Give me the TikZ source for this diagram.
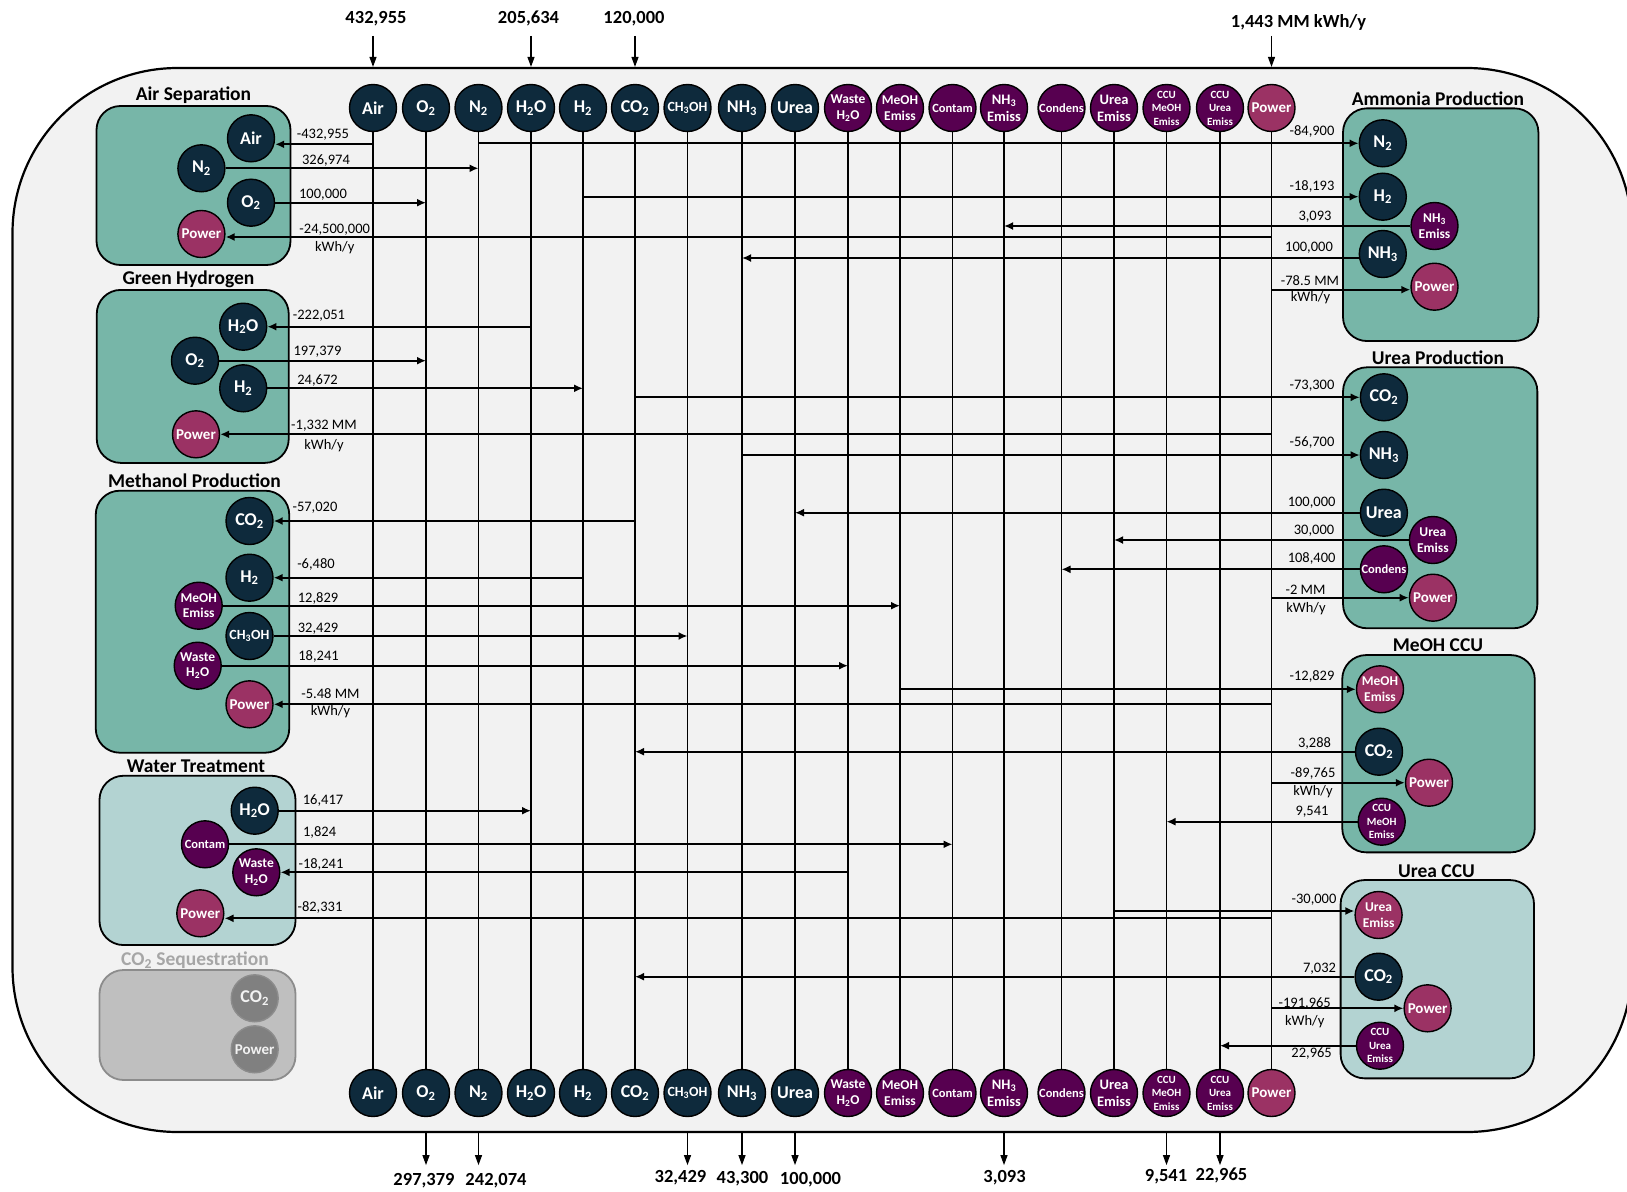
\documentclass[tikz,border=0pt]{standalone}
\usepackage{fontspec}
\setmainfont{Carlito}
\usetikzlibrary{arrows.meta, positioning, calc}

\definecolor{cBg}{HTML}{F2F2F2}
\definecolor{cNavy}{HTML}{0E2A3C}
\definecolor{cPlum}{HTML}{570050}
\definecolor{cRose}{HTML}{9B3264}
\definecolor{cTeal}{HTML}{77B6A8}
\definecolor{cMint}{HTML}{B3D3D2}
\definecolor{cGrayBox}{HTML}{BFBFBF}
\definecolor{cGrayEdge}{HTML}{8C8C8C}
\definecolor{cGrayDot}{HTML}{808080}
\definecolor{cGrayTitle}{HTML}{A6A6A6}

\newcommand{\sbs}[1]{\textsubscript{#1}}

\begin{document}
\begin{tikzpicture}[
    x=1pt, y=-1pt,
    >={Latex[length=9pt,width=8pt]},
    % whole site frame
    site/.style={draw, line width=2.2pt, fill=cBg, rounded corners=165pt,
        minimum width=1619.5pt, minimum height=1064pt, inner sep=0pt},
    % process blocks
    unit/.style={draw, line width=1.8pt, rounded corners=24pt, fill=cTeal, inner sep=0pt},
    unitlight/.style={unit, fill=cMint},
    unitgray/.style={unit, fill=cGrayBox, draw=cGrayEdge},
    ttl/.style={font=\bfseries\fontsize{19.5}{20}\selectfont},
    % stream bubbles
    bub/.style={circle, draw=black, line width=1.4pt, minimum size=47pt,
        inner sep=0pt, text=white, align=center},
    chem/.style={bub, fill=cNavy},
    emis/.style={bub, fill=cPlum},
    elec/.style={bub, fill=cRose},
    seqc/.style={bub, fill=cGrayDot, draw=cGrayEdge, text=cBg},
    % bubble text sizes
    tbig/.style={font=\bfseries\fontsize{18}{18}\selectfont},
    tpow/.style={font=\bfseries\fontsize{15}{16}\selectfont},
    tch/.style={font=\bfseries\fontsize{14}{15}\selectfont},
    tone/.style={font=\bfseries\fontsize{12.5}{14}\selectfont},
    tduo/.style={font=\bfseries\fontsize{13.5}{15.5}\selectfont},
    tduoL/.style={font=\bfseries\fontsize{14.5}{17}\selectfont},
    ttri/.style={font=\bfseries\fontsize{11}{13.5}\selectfont},
    % connectors and labels
    bus/.style={line width=1.6pt},
    flow/.style={->, line width=2pt},
    ext/.style={-{Triangle[length=10pt,width=7pt]}, line width=1.2pt},
    lbl/.style={font=\fontsize{14.5}{18}\selectfont, inner sep=0pt},
    extlbl/.style={font=\bfseries\fontsize{18.5}{20}\selectfont, inner sep=0pt}
]

\useasboundingbox (0,0) rectangle (1627,1191);

% ---------- site frame ----------
\node[site] (site) at (822.25,600) {};

% ---------- process blocks ----------
\node[unit, minimum width=194pt, minimum height=159pt] (asBox) at (193.5,185.5) {};
\node[ttl] (asTtl) at (193.5,95) {Air Separation};
\node[unit, minimum width=192pt, minimum height=173pt] (ghBox) at (192.75,376.4) {};
\node[ttl] (ghTtl) at (188.5,279) {Green Hydrogen};
\node[unit, minimum width=193.5pt, minimum height=262pt] (meBox) at (192.5,621.7) {};
\node[ttl] (meTtl) at (194.5,480.5) {Methanol Production};
\node[unitlight, minimum width=196pt, minimum height=169.3pt] (wtBox) at (197.5,860.4) {};
\node[ttl] (wtTtl) at (196,766.5) {Water Treatment};
\node[unitgray, minimum width=196pt, minimum height=110pt] (sqBox) at (197.5,1025) {};
\node[ttl, text=cGrayTitle] (sqTtl) at (195,960) {CO\sbs{2} Sequestration};

\node[unit, minimum width=195.4pt, minimum height=232.7pt] (amBox) at (1440.7,224.7) {};
\node[ttl] (amTtl) at (1438,98.5) {Ammonia Production};
\node[unit, minimum width=194.3pt, minimum height=261pt] (urBox) at (1440.2,497.8) {};
\node[ttl] (urTtl) at (1438,357.5) {Urea Production};
\node[unit, minimum width=192.5pt, minimum height=197.3pt] (mcBox) at (1438.5,753.7) {};
\node[ttl] (mcTtl) at (1438,645) {MeOH CCU};
\node[unitlight, minimum width=193.4pt, minimum height=198.3pt] (ucBox) at (1437.3,979.2) {};
\node[ttl] (ucTtl) at (1436.5,871) {Urea CCU};

% ---------- stream buses (top and bottom) ----------
\foreach \nm/\xx/\txt/\sty/\fnt in {
    Air/373/Air/chem/tbig,
    O2/426/O\sbs{2}/chem/tbig,
    N2/478.5/N\sbs{2}/chem/tbig,
    H2O/531/H\sbs{2}O/chem/tbig,
    H2/583/H\sbs{2}/chem/tbig,
    CO2/635/CO\sbs{2}/chem/tbig,
    MeOH/687.5/CH\sbs{3}OH/chem/tch,
    NH3/742/NH\sbs{3}/chem/tbig,
    Urea/795/Urea/chem/tbig,
    Waste/848/{Waste\\H\sbs{2}O}/emis/tduo,
    MeOHE/900/{MeOH\\Emiss}/emis/tduo,
    Contam/952.5/Contam/emis/tone,
    NH3E/1004/{NH\sbs{3}\\Emiss}/emis/tduoL,
    Cond/1061.5/Condens/emis/tone,
    UreaE/1114/{Urea\\Emiss}/emis/tduoL,
    CCUM/1166.5/{CCU\\MeOH\\Emiss}/emis/ttri,
    CCUU/1220/{CCU\\Urea\\Emiss}/emis/ttri,
    Power/1271.5/Power/elec/tpow%
}{
    \node[\sty, \fnt] (t\nm) at (\xx,108) {\txt};
    \node[\sty, \fnt] (b\nm) at (\xx,1093) {\txt};
    \draw[bus] (t\nm) -- (b\nm);
}

% ---------- site inputs and outputs ----------
\node[extlbl] (inAir) at (376,19) {432,955};
\node[extlbl] (inH2O) at (528.5,18.5) {205,634};
\node[extlbl] (inCO2) at (634,18.5) {120,000};
\node[extlbl] (inPow) at (1298.5,22) {1,443 MM kWh/y};
\draw[ext] ($(tAir |- site.north)+(0,-31)$) -- (tAir |- site.north);
\draw[ext] ($(tH2O |- site.north)+(0,-31)$) -- (tH2O |- site.north);
\draw[ext] ($(tCO2 |- site.north)+(0,-31)$) -- (tCO2 |- site.north);
\draw[ext] ($(tPower |- site.north)+(0,-31)$) -- (tPower |- site.north);

\draw[ext] (bO2 |- site.south) -- ++(0,32);
\draw[ext] (bN2 |- site.south) -- ++(0,32);
\draw[ext] (bMeOH |- site.south) -- ++(0,32);
\draw[ext] (bNH3 |- site.south) -- ++(0,32);
\draw[ext] (bUrea |- site.south) -- ++(0,32);
\draw[ext] (bNH3E |- site.south) -- ++(0,32);
\draw[ext] (bCCUM |- site.south) -- ++(0,32);
\draw[ext] (bCCUU |- site.south) -- ++(0,32);
\node[extlbl] (outO2) at (424,1181) {297,379};
\node[extlbl] (outN2) at (496,1181) {242,074};
\node[extlbl] (outMeOH) at (680.5,1178) {32,429};
\node[extlbl] (outNH3) at (742.5,1178.5) {43,300};
\node[extlbl] (outUrea) at (810.5,1180) {100,000};
\node[extlbl] (outNH3E) at (1004.5,1177.5) {3,093};
\node[extlbl] (outCCUM) at (1166,1176.5) {9,541};
\node[extlbl] (outCCUU) at (1221.5,1175.5) {22,965};

% ---------- Air Separation ----------
\node[chem, tbig] (asAir) at (251,138.3) {Air};
\node[chem, tbig] (asN2) at (201.4,168.3) {N\sbs{2}};
\node[chem, tbig] (asO2) at (251,202.7) {O\sbs{2}};
\node[elec, tpow] (asPow) at (201.4,234) {Power};
\coordinate (asAirIn) at ($(asAir.east)+(0,6)$);
\coordinate (asPowIn) at ($(asPow.east)+(0,3)$);
\draw[flow] (tAir |- asAirIn) -- (asAirIn);
\draw[flow] (asN2) -- (tN2 |- asN2);
\draw[flow] (asO2) -- (tO2 |- asO2);
\draw[flow] (tPower |- asPowIn) -- (asPowIn);
\node[lbl] (lAS1) at (323,135) {-432,955};
\node[lbl] (lAS2) at (326,160.7) {326,974};
\node[lbl] (lAS3) at (323,194.3) {100,000};
\node[lbl] (lAS4) at (334.7,229.3) {-24,500,000};
\node[lbl] (lAS5) at (334.7,247.3) {kWh/y};

% ---------- Green Hydrogen ----------
\node[chem, tbig] (ghH2O) at (243.2,326.7) {H\sbs{2}O};
\node[chem, tbig] (ghO2) at (195,360.7) {O\sbs{2}};
\node[chem, tbig] (ghH2) at (243.2,388.3) {H\sbs{2}};
\node[elec, tpow] (ghPow) at (196,434.3) {Power};
\draw[flow] (tH2O |- ghH2O) -- (ghH2O);
\draw[flow] (ghO2) -- (tO2 |- ghO2);
\draw[flow] (ghH2) -- (tH2 |- ghH2);
\draw[flow] (tPower |- ghPow) -- (ghPow);
\node[lbl] (lGH1) at (319,315.7) {-222,051};
\node[lbl] (lGH2) at (317.5,352) {197,379};
\node[lbl] (lGH3) at (317.5,380.7) {24,672};
\node[lbl] (lGH4) at (324,426) {-1,332 MM};
\node[lbl] (lGH5) at (324,446) {kWh/y};

% ---------- Methanol Production ----------
\node[chem, tbig] (meCO2) at (249.5,521) {CO\sbs{2}};
\node[chem, tbig] (meH2) at (249.5,577.7) {H\sbs{2}};
\node[emis, tduo] (meMeOH) at (198.7,605.7) {MeOH\\Emiss};
\node[chem, tch] (meCH) at (249.5,636) {CH\sbs{3}OH};
\node[emis, tduo] (meWaste) at (197.7,665.7) {Waste\\H\sbs{2}O};
\node[elec, tpow] (mePow) at (249.5,704.3) {Power};
\draw[flow] (tCO2 |- meCO2) -- (meCO2);
\draw[flow] (tH2 |- meH2) -- (meH2);
\draw[flow] (meMeOH) -- (tMeOHE |- meMeOH);
\draw[flow] (meCH) -- (tMeOH |- meCH);
\draw[flow] (meWaste) -- (tWaste |- meWaste);
\draw[flow] (tPower |- mePow) -- (mePow);
\node[lbl] (lME1) at (315,507.7) {-57,020};
\node[lbl] (lME2) at (316,564.3) {-6,480};
\node[lbl] (lME3) at (318,598.3) {12,829};
\node[lbl] (lME4) at (318,628.3) {32,429};
\node[lbl] (lME5) at (318.5,656) {18,241};
\node[lbl] (lME6) at (330.5,693.3) {-5.48 MM};
\node[lbl] (lME7) at (330.5,711.7) {kWh/y};

% ---------- Water Treatment ----------
\node[chem, tbig] (wtH2O) at (254.7,810.7) {H\sbs{2}O};
\node[emis, tone] (wtCont) at (205,844.3) {Contam};
\node[emis, tduo] (wtWaste) at (256.3,872.3) {Waste\\H\sbs{2}O};
\node[elec, tpow] (wtPow) at (200.3,913.3) {Power};
\coordinate (wtPowIn) at ($(wtPow.east)+(0,5)$);
\draw[flow] (wtH2O) -- (tH2O |- wtH2O);
\draw[flow] (wtCont) -- (tContam |- wtCont);
\draw[flow] (tWaste |- wtWaste) -- (wtWaste);
\draw[flow] (tPower |- wtPowIn) -- (wtPowIn);
\node[lbl] (lWT1) at (323,801) {16,417};
\node[lbl] (lWT2) at (319.6,832.3) {1,824};
\node[lbl] (lWT3) at (321,864) {-18,241};
\node[lbl] (lWT4) at (320,907.3) {-82,331};

% ---------- CO2 Sequestration (idle) ----------
\node[seqc, tbig] (sqCO2) at (254.7,998.3) {CO\sbs{2}};
\node[seqc, tpow] (sqPow) at (254.7,1049.3) {Power};

% ---------- Ammonia Production ----------
\node[chem, tbig] (amN2) at (1382.8,143.3) {N\sbs{2}};
\node[chem, tbig] (amH2) at (1382.8,196.7) {H\sbs{2}};
\node[emis, tduo] (amNH3E) at (1434.5,226) {NH\sbs{3}\\Emiss};
\node[chem, tbig] (amNH3) at (1382.8,254) {NH\sbs{3}};
\node[elec, tpow] (amPow) at (1434.5,286.7) {Power};
\coordinate (amNH3Out) at ($(amNH3.west)+(0,4)$);
\coordinate (amPowIn) at ($(amPow.west)+(0,3)$);
\draw[flow] (tN2 |- amN2) -- (amN2);
\draw[flow] (tH2 |- amH2) -- (amH2);
\draw[flow] (amNH3E) -- (tNH3E |- amNH3E);
\draw[flow] (amNH3Out) -- (tNH3 |- amNH3Out);
\draw[flow] (tPower |- amPowIn) -- (amPowIn);
\node[lbl] (lAM1) at (1312,131.7) {-84,900};
\node[lbl] (lAM2) at (1312,186.7) {-18,193};
\node[lbl] (lAM3) at (1315,216.7) {3,093};
\node[lbl] (lAM4) at (1309,247.3) {100,000};
\node[lbl] (lAM5) at (1310,280.5) {-78.5 MM};
\node[lbl] (lAM6) at (1310.5,298) {kWh/y};

% ---------- Urea Production ----------
\node[chem, tbig] (urCO2) at (1383.9,397.3) {CO\sbs{2}};
\node[chem, tbig] (urNH3) at (1383.9,455) {NH\sbs{3}};
\node[chem, tbig] (urUrea) at (1383.9,512.7) {Urea};
\node[emis, tduo] (urUreaE) at (1432.9,540) {Urea\\Emiss};
\node[emis, tone] (urCond) at (1383.9,569.3) {Condens};
\node[elec, tpow] (urPow) at (1432.9,597.7) {Power};
\draw[flow] (tCO2 |- urCO2) -- (urCO2);
\draw[flow] (tNH3 |- urNH3) -- (urNH3);
\draw[flow] (urUrea) -- (tUrea |- urUrea);
\draw[flow] (urUreaE) -- (tUreaE |- urUreaE);
\draw[flow] (urCond) -- (tCond |- urCond);
\draw[flow] (tPower |- urPow) -- (urPow);
\node[lbl] (lUR1) at (1312,386) {-73,300};
\node[lbl] (lUR2) at (1312,442.7) {-56,700};
\node[lbl] (lUR3) at (1311.6,502.3) {100,000};
\node[lbl] (lUR4) at (1314,530.7) {30,000};
\node[lbl] (lUR5) at (1311.6,558.7) {108,400};
\node[lbl] (lUR6) at (1305.5,590) {-2 MM};
\node[lbl] (lUR7) at (1306,608.3) {kWh/y};

% ---------- MeOH CCU ----------
\node[elec, tduo] (mcMeOH) at (1380,689.3) {MeOH\\Emiss};
\node[chem, tbig] (mcCO2) at (1379,751.7) {CO\sbs{2}};
\node[elec, tpow] (mcPow) at (1429,782.7) {Power};
\node[emis, ttri] (mcCCU) at (1381.7,821.7) {CCU\\MeOH\\Emiss};
\draw[flow] (tMeOHE |- mcMeOH) -- (mcMeOH);
\draw[flow] (mcCO2) -- (tCO2 |- mcCO2);
\draw[flow] (tPower |- mcPow) -- (mcPow);
\draw[flow] (mcCCU) -- (tCCUM |- mcCCU);
\node[lbl] (lMC1) at (1312,676.7) {-12,829};
\node[lbl] (lMC2) at (1314.5,743) {3,288};
\node[lbl] (lMC3) at (1313,773.3) {-89,765};
\node[lbl] (lMC4) at (1313,791.7) {kWh/y};
\node[lbl] (lMC5) at (1312,811.7) {9,541};

% ---------- Urea CCU ----------
\node[elec, tduo] (ucUreaE) at (1378.6,915) {Urea\\Emiss};
\node[chem, tbig] (ucCO2) at (1378.6,976.7) {CO\sbs{2}};
\node[elec, tpow] (ucPow) at (1427.6,1008.3) {Power};
\node[emis, ttri] (ucCCU) at (1380,1045.7) {CCU\\Urea\\Emiss};
\coordinate (ucUreaIn) at ($(ucUreaE.west)+(0,-4)$);
\draw[flow] (tUreaE |- ucUreaIn) -- (ucUreaIn);
\draw[flow] (ucCO2) -- (tCO2 |- ucCO2);
\draw[flow] (tPower |- ucPow) -- (ucPow);
\draw[flow] (ucCCU) -- (tCCUU |- ucCCU);
\node[lbl] (lUC1) at (1314,899.3) {-30,000};
\node[lbl] (lUC2) at (1319.5,968.3) {7,032};
\node[lbl] (lUC3) at (1304.7,1003.3) {-191,965};
\node[lbl] (lUC4) at (1304.7,1021.7) {kWh/y};
\node[lbl] (lUC5) at (1311.6,1053.3) {22,965};

\end{tikzpicture}
\end{document}
